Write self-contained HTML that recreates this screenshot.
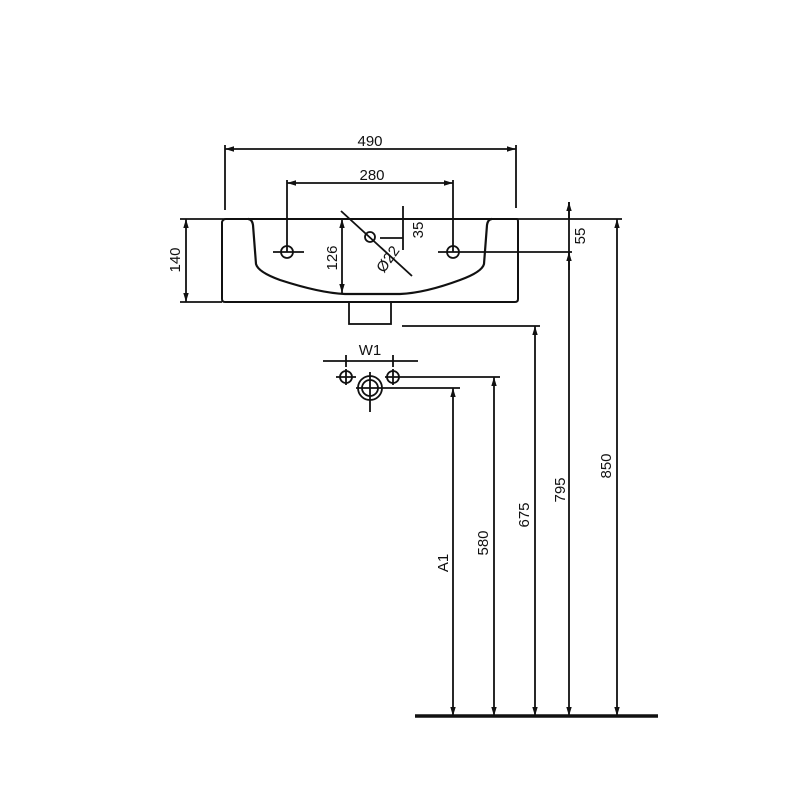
<!DOCTYPE html>
<html><head><style>body{margin:0;background:#fff}</style></head><body>
<svg width="800" height="800" xmlns="http://www.w3.org/2000/svg" font-family="Liberation Sans, sans-serif" font-size="15" fill="none" stroke="#111" stroke-width="1.8">
<defs><marker id="a" viewBox="0 0 10 10" refX="10" refY="5" markerWidth="5" markerHeight="5" orient="auto-start-reverse"><path d="M0,2 L10,5 L0,8z" fill="#111" stroke="none"/></marker></defs>
<!-- basin -->
<path d="M226,219 L517,219 Q518,219 518,222 L518,299 Q518,302 515,302 L225,302 Q222,302 222,299 L222,222 Q223,219 226,219" stroke-width="2"/>
<path d="M248,219 Q252,219 253,225 L256,264 Q258,272 280,280 Q320,293 345,294 L400,294 Q425,293 460,280 Q482,272 484,264 L487,225 Q488,219 492,219" stroke-width="2.2"/>
<rect x="349" y="302" width="42" height="22"/>
<line x1="180" y1="219" x2="622" y2="219"/>
<line x1="180" y1="302" x2="222" y2="302"/>
<!-- 490 -->
<line x1="225" y1="145" x2="225" y2="210"/><line x1="516" y1="145" x2="516" y2="208"/>
<line x1="225" y1="149" x2="516" y2="149" marker-start="url(#a)" marker-end="url(#a)"/>
<text x="370" y="146" fill="#111" stroke="none" text-anchor="middle">490</text>
<!-- 280 -->
<line x1="287" y1="180" x2="287" y2="252"/><line x1="453" y1="180" x2="453" y2="252"/>
<line x1="287" y1="183" x2="453" y2="183" marker-start="url(#a)" marker-end="url(#a)"/>
<text x="372" y="180" fill="#111" stroke="none" text-anchor="middle">280</text>
<!-- holes -->
<circle cx="287" cy="252" r="6"/><line x1="273" y1="252" x2="304" y2="252"/>
<circle cx="453" cy="252" r="6"/><line x1="438" y1="252" x2="572" y2="252"/>
<!-- 140 -->
<line x1="186" y1="219" x2="186" y2="302" marker-start="url(#a)" marker-end="url(#a)"/>
<text transform="translate(180,260) rotate(-90)" fill="#111" stroke="none" text-anchor="middle">140</text>
<!-- 126 -->
<line x1="342" y1="219" x2="342" y2="293" marker-start="url(#a)" marker-end="url(#a)"/>
<text transform="translate(337,258) rotate(-90)" fill="#111" stroke="none" text-anchor="middle">126</text>
<!-- Ø22 -->
<line x1="341" y1="211" x2="412" y2="276"/>
<circle cx="370" cy="237" r="5"/>
<text transform="translate(392,262) rotate(-55)" fill="#111" stroke="none" text-anchor="middle">Ø22</text>
<!-- 35 -->
<line x1="403" y1="206" x2="403" y2="250"/><line x1="380" y1="238" x2="403" y2="238"/>
<text transform="translate(423,230) rotate(-90)" fill="#111" stroke="none" text-anchor="middle">35</text>
<!-- 55 -->
<text transform="translate(585,236) rotate(-90)" fill="#111" stroke="none" text-anchor="middle">55</text>
<!-- W1 -->
<line x1="323" y1="361" x2="418" y2="361"/><line x1="346" y1="355" x2="346" y2="367"/><line x1="393" y1="355" x2="393" y2="367"/>
<text x="370" y="355" fill="#111" stroke="none" text-anchor="middle">W1</text>
<circle cx="346" cy="377" r="6"/><line x1="336" y1="377" x2="356" y2="377"/><line x1="346" y1="369" x2="346" y2="385"/>
<circle cx="393" cy="377" r="6"/><line x1="385" y1="377" x2="500" y2="377"/><line x1="393" y1="369" x2="393" y2="385"/>
<circle cx="370" cy="388" r="12"/><circle cx="370" cy="388" r="8"/>
<line x1="370" y1="372" x2="370" y2="412"/><line x1="356" y1="388" x2="460" y2="388"/>
<line x1="402" y1="326" x2="540" y2="326"/>
<!-- verticals -->
<line x1="453" y1="388" x2="453" y2="716" marker-start="url(#a)" marker-end="url(#a)"/>
<line x1="494" y1="377" x2="494" y2="716" marker-start="url(#a)" marker-end="url(#a)"/>
<line x1="535" y1="326" x2="535" y2="716" marker-start="url(#a)" marker-end="url(#a)"/>
<line x1="569" y1="202" x2="569" y2="716" marker-end="url(#a)"/>
<line x1="569" y1="219" x2="569" y2="202" marker-end="url(#a)"/>
<line x1="569" y1="252" x2="569" y2="270" marker-start="url(#a)"/>
<line x1="617" y1="219" x2="617" y2="716" marker-start="url(#a)" marker-end="url(#a)"/>
<line x1="415" y1="716" x2="658" y2="716" stroke-width="3.5"/>
<g fill="#111" stroke="none" text-anchor="middle">
<text transform="translate(448,563) rotate(-90)">A1</text>
<text transform="translate(488,543) rotate(-90)">580</text>
<text transform="translate(529,515) rotate(-90)">675</text>
<text transform="translate(565,490) rotate(-90)">795</text>
<text transform="translate(611,466) rotate(-90)">850</text>
</g>
</svg>
</body></html>
